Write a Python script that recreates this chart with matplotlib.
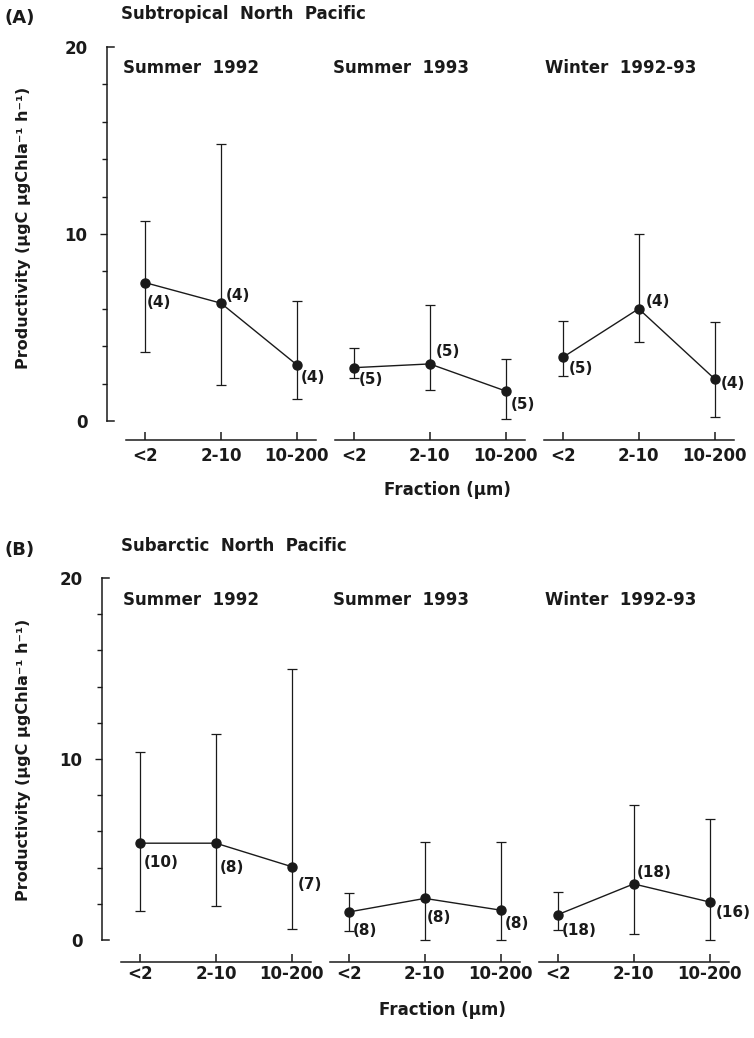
import numpy as np
import matplotlib
matplotlib.use("Agg")
import matplotlib.pyplot as plt

plt.rcParams['font.family'] = ['DejaVu Sans']
plt.rcParams['font.weight'] = 'bold'

# Data
fractions = ['<2', '2-10', '10-200']
seasons = ['Summer  1992', 'Summer  1993', 'Winter  1992-93']

# (A) Subtropical North Pacific
a_mean = [[7.4, 6.3, 3.0], [2.85, 3.05, 1.6], [3.4, 6.0, 2.25]]
a_low = [[3.7, 1.9, 1.2], [2.3, 1.65, 0.1], [2.4, 4.2, 0.2]]
a_high = [[10.7, 14.8, 6.4], [3.9, 6.2, 3.3], [5.35, 10.0, 5.3]]
a_n = [['(4)', '(4)', '(4)'], ['(5)', '(5)', '(5)'], ['(5)', '(4)', '(4)']]

# (B) Subarctic North Pacific
b_mean = [[5.35, 5.35, 4.05], [1.55, 2.3, 1.65], [1.4, 3.1, 2.1]]
b_low = [[1.6, 1.9, 0.6], [0.5, 0.0, 0.0], [0.55, 0.35, 0.0]]
b_high = [[10.4, 11.4, 15.0], [2.6, 5.4, 5.4], [2.65, 7.45, 6.7]]
b_n = [['(10)', '(8)', '(7)'], ['(8)', '(8)', '(8)'], ['(18)', '(18)', '(16)']]

# label offsets in pixels (dx, dy)
a_off = [[(2, -20), (5, 8), (4, -13)], [(5, -12), (6, 12), (5, -13)],
         [(6, -11), (7, 7), (6, -5)]]
b_off = [[(4, -19), (4, -24), (6, -18)], [(4, -19), (2, -19), (4, -13)],
         [(4, -16), (3, 11), (6, -10)]]

W, H = 754, 1038
fig = plt.figure(figsize=(W / 100, H / 100), dpi=100)
ink = '#1a1a1a'


def fx(p):
    return p / W


def fy(p):
    return 1 - p / H


def panel(rect, ylo, xaxis_y, label_y, mean, low, high, nlab, offs):
    ax = fig.add_axes(rect)
    ax.set_xlim(-0.5, 7.9)
    ax.set_ylim(ylo, 20)
    for s in ['top', 'right', 'bottom']:
        ax.spines[s].set_visible(False)
    ax.spines['left'].set_bounds(0, 20)
    ax.spines['left'].set_color(ink)
    ax.spines['left'].set_linewidth(1.1)
    ax.set_xticks([])
    ax.set_yticks([0, 10, 20])
    ax.set_yticks(np.arange(0, 21, 2), minor=True)
    ax.tick_params(axis='y', which='major', length=5, width=1, colors=ink,
                   labelsize=12, pad=9)
    ax.tick_params(axis='y', which='minor', length=3.5, width=1, colors=ink)
    ticks = ax.yaxis.get_major_ticks()
    ticks[0].tick1line.set_visible(False)
    ticks[2].tick1line.set_visible(False)
    for t in ax.get_yticklabels():
        t.set_fontweight('bold')
    for yv in [0, 20]:
        ax.plot([-0.5, -0.41], [yv, yv], color=ink, lw=1.1, clip_on=False)

    for g in range(3):
        xs = np.arange(3) + g * 2.75
        m = np.array(mean[g])
        err = [m - np.array(low[g]), np.array(high[g]) - m]
        ax.errorbar(xs, m, yerr=err, fmt='o-', color=ink, ms=6.5, lw=1,
                    elinewidth=0.9, capsize=3.5, capthick=0.9, clip_on=False)
        for i in range(3):
            ax.annotate(nlab[g][i], (xs[i], m[i]), xytext=offs[g][i],
                        textcoords='offset pixels', ha='left', va='center',
                        fontsize=11, fontweight='bold', color=ink)
        # detached x axis for each group
        ax.plot([xs[0] - 0.25, xs[-1] + 0.25], [xaxis_y, xaxis_y],
                color=ink, lw=1.1, clip_on=False)
        ax.plot(xs, [xaxis_y] * 3, ls='', marker=2, ms=6, mew=1.1,
                color=ink, clip_on=False)
        for i in range(3):
            ax.text(xs[i], label_y, fractions[i], ha='center', va='center',
                    fontsize=12, fontweight='bold', color=ink)
    return ax


panel([fx(107), fy(449), fx(638), 402 / H], -1.5, -1.0, -1.85,
      a_mean, a_low, a_high, a_n, a_off)
panel([fx(102), fy(969), fx(638), 391 / H], -1.6, -1.2, -1.9,
      b_mean, b_low, b_high, b_n, b_off)

# panel texts
for top, letter, region in [(0, '(A)', 'Subtropical  North  Pacific'),
                            (532, '(B)', 'Subarctic  North  Pacific')]:
    fig.text(fx(4), fy(top + 18), letter, fontsize=13, fontweight='bold',
             color=ink, va='center')
    fig.text(fx(121), fy(top + 14), region, fontsize=12, fontweight='bold',
             color=ink, va='center')
    for sx, name in zip([123, 333, 545], seasons):
        fig.text(fx(sx), fy(top + 68), name, fontsize=12, fontweight='bold',
                 color=ink, va='center')

fig.text(fx(24), fy(228), 'Productivity (µgC µgChla⁻¹ h⁻¹)', rotation=90,
         fontsize=11.5, fontweight='bold', color=ink, ha='center', va='center')
fig.text(fx(24), fy(760), 'Productivity (µgC µgChla⁻¹ h⁻¹)', rotation=90,
         fontsize=11.5, fontweight='bold', color=ink, ha='center', va='center')
fig.text(fx(447), fy(490), 'Fraction (µm)', fontsize=12, fontweight='bold',
         color=ink, ha='center', va='center')
fig.text(fx(442), fy(1010), 'Fraction (µm)', fontsize=12, fontweight='bold',
         color=ink, ha='center', va='center')

fig.savefig('out.png', dpi=100)
